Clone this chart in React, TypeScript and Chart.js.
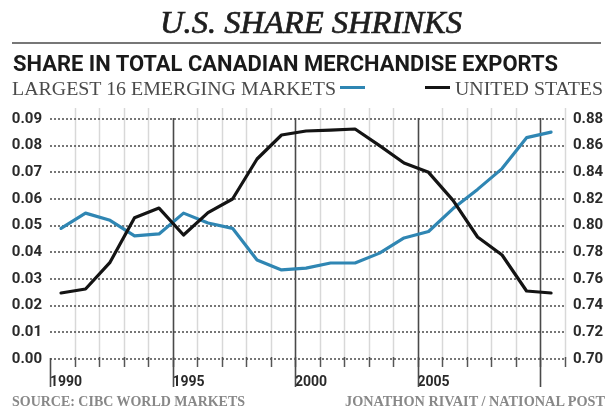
import React, { useEffect, useLayoutEffect, useRef } from "react";
import { Chart, registerables } from "chart.js";

Chart.register(...registerables);

// ---- data ----
const YEARS = [1990, 1991, 1992, 1993, 1994, 1995, 1996, 1997, 1998, 1999, 2000, 2001, 2002, 2003, 2004, 2005, 2006, 2007, 2008, 2009, 2010];
const EMERGING = [0.049, 0.0547, 0.052, 0.0462, 0.0469, 0.0547, 0.051, 0.049, 0.0371, 0.0334, 0.0341, 0.036, 0.036, 0.0397, 0.0454, 0.0478, 0.0564, 0.0636, 0.0714, 0.083, 0.0851];
const UNITED_STATES = [0.7495, 0.7525, 0.7725, 0.806, 0.8132, 0.793, 0.8098, 0.82, 0.85, 0.868, 0.871, 0.8717, 0.8725, 0.86, 0.847, 0.84, 0.819, 0.7915, 0.778, 0.751, 0.7495];
const X_LABEL_YEARS = [1990, 1995, 2000, 2005];
const MAJOR_YEARS = [1995, 2000, 2005, 2010];
const LEFT_MIN = 0, LEFT_MAX = 0.09, LEFT_STEP = 0.01;
const RIGHT_MIN = 0.7, RIGHT_MAX = 0.88, RIGHT_STEP = 0.02;
const X_MIN = 1990, X_MAX = 2011.06;
const MID_YEAR = 0.45;

const TITLE = "U.S. SHARE SHRINKS";
const SUBTITLE = "SHARE IN TOTAL CANADIAN MERCHANDISE EXPORTS";
const LEGEND_EM = "LARGEST 16 EMERGING MARKETS";
const LEGEND_US = "UNITED STATES";
const SOURCE = "SOURCE: CIBC WORLD MARKETS";
const CREDIT = "JONATHON RIVAIT / NATIONAL POST";

const BLUE = "#2f86b3";
const BLACK = "#141414";

type FitProps = { text: string; left: number; top: number; width: number; font: string; color: string; stroke?: string };

function FitText({ text, left, top, width, font, color, stroke }: FitProps) {
  const ref = useRef<HTMLDivElement>(null);
  useLayoutEffect(() => {
    const el = ref.current;
    if (!el) return;
    el.style.transform = "none";
    const w = el.getBoundingClientRect().width;
    if (w > 0) el.style.transform = `scaleX(${width / w})`;
  }, [text, width, font]);
  return (
    <div
      ref={ref}
      style={{
        position: "absolute",
        left,
        top,
        font,
        color,
        lineHeight: 1,
        whiteSpace: "nowrap",
        width: "max-content",
        transformOrigin: "0 0",
        WebkitTextStroke: stroke,
      }}
    >
      {text}
    </div>
  );
}

const gridPlugin = {
  id: "customGrid",
  beforeDatasetsDraw(chart: any) {
    const { ctx, chartArea, scales } = chart;
    const { left, right, top, bottom } = chartArea;
    const x = scales.x;
    const yL = scales.yL;
    ctx.save();
    // light year lines
    ctx.strokeStyle = "#d8d8d8";
    ctx.lineWidth = 1.5;
    for (let yr = X_MIN + 1; yr <= Math.floor(X_MAX); yr++) {
      if (MAJOR_YEARS.includes(yr)) continue;
      const px = Math.round(x.getPixelForValue(yr)) + 0.5;
      ctx.beginPath();
      ctx.moveTo(px, top - 11);
      ctx.lineTo(px, bottom);
      ctx.stroke();
    }
    // dotted horizontal lines
    ctx.strokeStyle = "#4a4a4a";
    ctx.lineWidth = 1.5;
    ctx.setLineDash([2, 2]);
    for (const t of yL.ticks) {
      const py = Math.round(yL.getPixelForValue(t.value));
      ctx.beginPath();
      ctx.moveTo(left, py);
      ctx.lineTo(right, py);
      ctx.stroke();
    }
    ctx.setLineDash([]);
    // minor ticks at each year
    ctx.strokeStyle = "#555";
    ctx.lineWidth = 1.5;
    for (let yr = X_MIN + 1; yr <= Math.floor(X_MAX); yr++) {
      const px = Math.round(x.getPixelForValue(yr)) + 0.5;
      ctx.beginPath();
      ctx.moveTo(px, bottom - 2);
      ctx.lineTo(px, bottom + 8);
      ctx.stroke();
    }
    // major lines
    ctx.strokeStyle = "#4a4a4a";
    ctx.lineWidth = 1.6;
    for (const yr of MAJOR_YEARS) {
      const px = Math.round(x.getPixelForValue(yr)) + 0.5;
      ctx.beginPath();
      ctx.moveTo(px, top - 1);
      ctx.lineTo(px, bottom + 28);
      ctx.stroke();
    }
    const p0 = Math.round(x.getPixelForValue(X_MIN)) + 0.5;
    ctx.beginPath();
    ctx.moveTo(p0, bottom - 1);
    ctx.lineTo(p0, bottom + 28);
    ctx.stroke();
    ctx.restore();
  },
};

function ShareChart() {
  const canvasRef = useRef<HTMLCanvasElement>(null);
  useEffect(() => {
    const canvas = canvasRef.current;
    if (!canvas) return;
    const tickFont = { family: "Roboto", weight: "bold" as const, size: 15 };
    const chart = new Chart(canvas, {
      type: "line",
      data: {
        datasets: [
          {
            label: LEGEND_US,
            data: YEARS.map((yr, i) => ({ x: yr + MID_YEAR, y: UNITED_STATES[i] })),
            yAxisID: "yR",
            borderColor: BLACK,
            borderWidth: 3.2,
            pointRadius: 0,
            tension: 0,
            borderJoinStyle: "round",
            borderCapStyle: "round",
          },
          {
            label: LEGEND_EM,
            data: YEARS.map((yr, i) => ({ x: yr + MID_YEAR, y: EMERGING[i] })),
            yAxisID: "yL",
            borderColor: BLUE,
            borderWidth: 3.2,
            pointRadius: 0,
            tension: 0,
            borderJoinStyle: "round",
            borderCapStyle: "round",
          },
        ],
      },
      options: {
        responsive: false,
        animation: false,
        devicePixelRatio: 1,
        layout: { padding: { top: 119, left: 0, right: 0, bottom: 0 } },
        plugins: { legend: { display: false }, tooltip: { enabled: false }, title: { display: false } },
        scales: {
          x: {
            type: "linear",
            min: X_MIN,
            max: X_MAX,
            grid: { display: false },
            border: { display: false },
            afterFit: (s: any) => {
              s.height = 51;
            },
            ticks: {
              stepSize: 1,
              autoSkip: false,
              maxRotation: 0,
              align: "start",
              padding: 7,
              color: "#2a2a2a",
              font: { family: "Roboto", weight: "bold", size: 14 },
              callback: (v: any) => (X_LABEL_YEARS.includes(Number(v)) ? String(v) : ""),
            },
          },
          yL: {
            type: "linear",
            position: "left",
            min: LEFT_MIN,
            max: LEFT_MAX,
            grid: { display: false, drawTicks: false },
            border: { display: false },
            afterFit: (s: any) => {
              s.width = 50;
            },
            ticks: {
              stepSize: LEFT_STEP,
              padding: 8,
              color: "#2a2a2a",
              font: tickFont,
              callback: (v: any) => Number(v).toFixed(2),
            },
          },
          yR: {
            type: "linear",
            position: "right",
            min: RIGHT_MIN,
            max: RIGHT_MAX,
            grid: { display: false, drawTicks: false },
            border: { display: false },
            afterFit: (s: any) => {
              s.width = 40;
            },
            ticks: {
              stepSize: RIGHT_STEP,
              padding: 7,
              color: "#2a2a2a",
              font: tickFont,
              callback: (v: any) => Number(v).toFixed(2),
            },
          },
        },
      },
      plugins: [gridPlugin],
    });
    return () => chart.destroy();
  }, []);
  return <canvas ref={canvasRef} width={606} height={410} style={{ position: "absolute", left: 0, top: 0, width: 606, height: 410 }} />;
}

export default function App() {
  return (
    <div style={{ position: "absolute", left: 0, top: 0, width: 606, height: 410, background: "#fff", overflow: "hidden" }}>
      <ShareChart />
      <FitText text={TITLE} left={160} top={6} width={302} font='italic 32px "Liberation Serif"' color="#1e1e1e" stroke="0.7px #1e1e1e" />
      <div style={{ position: "absolute", left: 12, top: 42, width: 589, height: 2, background: "#777" }} />
      <FitText text={SUBTITLE} left={13} top={53} width={545} font='bold 22px "Roboto"' color="#1a1a1a" />
      <FitText text={LEGEND_EM} left={12} top={80} width={324} font='18px "Liberation Serif"' color="#4a4a4a" />
      <div style={{ position: "absolute", left: 340, top: 86, width: 25, height: 3, background: BLUE }} />
      <div style={{ position: "absolute", left: 425, top: 86, width: 25, height: 3, background: BLACK }} />
      <FitText text={LEGEND_US} left={455} top={80} width={148} font='18px "Liberation Serif"' color="#4a4a4a" />
      <FitText text={SOURCE} left={12} top={395} width={233} font='bold 14px "Liberation Serif"' color="#888" />
      <FitText text={CREDIT} left={345} top={395} width={260} font='bold 14px "Liberation Serif"' color="#888" />
    </div>
  );
}
